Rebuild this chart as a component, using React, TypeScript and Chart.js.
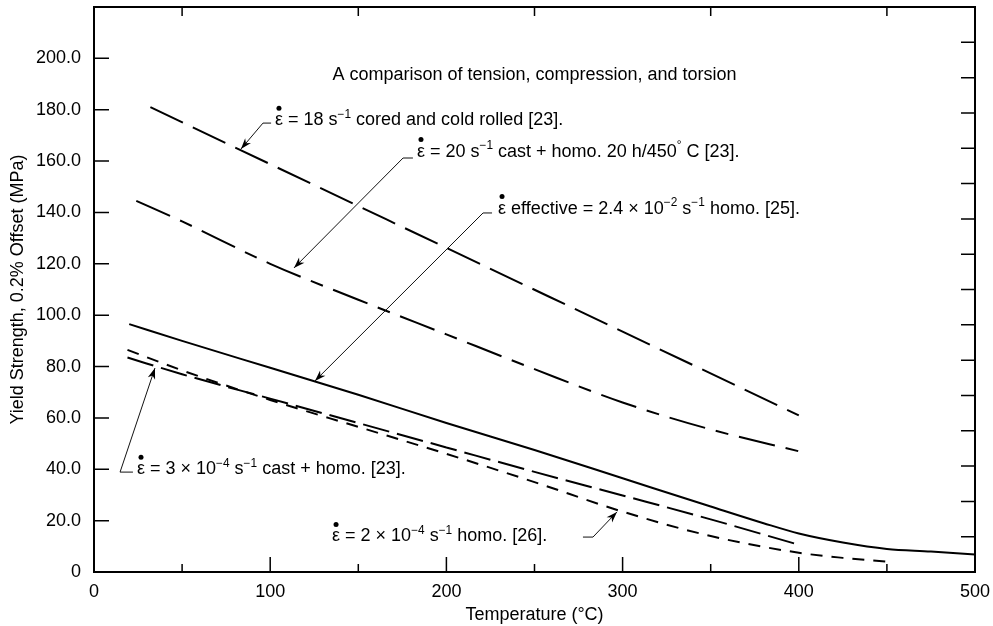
import React, { useEffect, useRef } from "react";
import { Chart, registerables } from "chart.js";
Chart.register(...registerables);

const FONT = '"Liberation Sans", Arial, Helvetica, sans-serif';

// ---- data (temperature in °C, yield strength in MPa) ----
const rate18X = [32, 100, 200, 300, 400];
const rate18Y = [181, 158.8, 126.2, 93.6, 61];

const rate20X = [24, 50, 100, 150, 200, 250, 300, 350, 400];
const rate20Y = [144.5, 136.5, 120, 106, 92.5, 79, 66, 55.5, 47];

const effX = [20, 50, 100, 150, 200, 250, 300, 350, 380, 400, 425, 450, 475, 500];
const effY = [96.5, 90, 79.5, 69, 58, 47.5, 36.5, 25.5, 19, 15, 11.5, 9, 8, 6.8];

const rate3e4X = [19, 50, 100, 150, 200, 250, 300, 350, 398];
const rate3e4Y = [83.5, 77, 67.5, 58, 48.5, 39, 29.8, 20.5, 11];

const rate2e4X = [19, 50, 100, 150, 200, 250, 300, 350, 400, 425, 450];
const rate2e4Y = [86.5, 78.5, 67, 56.5, 46, 35, 23.5, 14, 7.5, 5.5, 4];

// ---- tick labels ----
const xTickValues = [0, 100, 200, 300, 400, 500];
const yTickValues = [0, 20, 40, 60, 80, 100, 120, 140, 160, 180, 200];
const xMinorTicks = [50, 150, 250, 350, 450];
const topTicks = [50, 150, 250, 350, 450];
const rightTickCount = 16;

const titleText = "A comparison of tension, compression, and torsion";

type Seg = { t: string; sup?: boolean; dot?: boolean };
type Ann = {
  segs: Seg[];
  tx: number; ty: number; // text left / center (data units)
  ex: number; ey: number; // elbow
  sx: number;             // other end of horizontal stub
  px: number; py: number; // arrow tip
};

const annotations: Ann[] = [
  {
    segs: [{ t: "ε", dot: true }, { t: " = 18 s" }, { t: "−1", sup: true }, { t: " cored and cold rolled [23]." }],
    tx: 102.7, ty: 176.4, ex: 95.9, ey: 174.8, sx: 100.5, px: 83.4, py: 164.7,
  },
  {
    segs: [{ t: "ε", dot: true }, { t: " = 20 s" }, { t: "−1", sup: true }, { t: " cast + homo. 20 h/450" }, { t: "°", sup: true }, { t: " C [23]." }],
    tx: 183.3, ty: 164.3, ex: 175.4, ey: 161.2, sx: 181, px: 113.5, py: 118.4,
  },
  {
    segs: [{ t: "ε", dot: true }, { t: " effective = 2.4 × 10" }, { t: "−2", sup: true }, { t: " s" }, { t: "−1", sup: true }, { t: " homo. [25]." }],
    tx: 229.3, ty: 142.1, ex: 220.8, ey: 139.8, sx: 225.9, px: 125.4, py: 74.4,
  },
  {
    segs: [{ t: "ε", dot: true }, { t: " = 3 × 10" }, { t: "−4", sup: true }, { t: " s" }, { t: "−1", sup: true }, { t: " cast + homo. [23]." }],
    tx: 24.4, ty: 40.5, ex: 14.8, ey: 38.9, sx: 22.1, px: 34.6, py: 79.4,
  },
  {
    segs: [{ t: "ε", dot: true }, { t: " = 2 × 10" }, { t: "−4", sup: true }, { t: " s" }, { t: "−1", sup: true }, { t: " homo. [26]." }],
    tx: 135.1, ty: 14.4, ex: 283.2, ey: 13.6, sx: 277.5, px: 296.8, py: 23.4,
  },
];

const zip = (xs: number[], ys: number[]) => xs.map((x, i) => ({ x, y: ys[i] }));

function drawRich(ctx: CanvasRenderingContext2D, segs: Seg[], x: number, cy: number, size: number) {
  const base = cy + size * 0.36;
  let cx = x;
  ctx.textAlign = "left";
  ctx.textBaseline = "alphabetic";
  for (const s of segs) {
    const fs = s.sup ? size * 0.66 : size;
    ctx.font = `${fs}px ${FONT}`;
    const y = s.sup ? base - size * 0.42 : base;
    ctx.fillText(s.t, cx, y);
    const w = ctx.measureText(s.t).width;
    if (s.dot) {
      ctx.beginPath();
      ctx.arc(cx + w / 2, base - size * 0.95, 2.5, 0, Math.PI * 2);
      ctx.fill();
    }
    cx += w;
  }
}

const framePlugin = {
  id: "frameTicks",
  afterDraw(chart: any) {
    const { ctx, chartArea: a, scales } = chart;
    const xs = scales.x;
    const ys = scales.y;
    ctx.save();
    ctx.strokeStyle = "#000";
    ctx.fillStyle = "#000";
    // ticks
    ctx.lineWidth = 1.5;
    ctx.beginPath();
    for (const v of yTickValues) {
      if (v === 0) continue;
      const p = ys.getPixelForValue(v);
      ctx.moveTo(a.left, p);
      ctx.lineTo(a.left + 15, p);
    }
    for (let k = 1; k < rightTickCount; k++) {
      const p = ys.getPixelForValue((k * ys.max) / rightTickCount);
      ctx.moveTo(a.right, p);
      ctx.lineTo(a.right - 14, p);
    }
    for (const v of xTickValues) {
      if (v === 0 || v === 500) continue;
      const p = xs.getPixelForValue(v);
      ctx.moveTo(p, a.bottom);
      ctx.lineTo(p, a.bottom - 15);
    }
    for (const v of xMinorTicks) {
      const p = xs.getPixelForValue(v);
      ctx.moveTo(p, a.bottom);
      ctx.lineTo(p, a.bottom - 8);
    }
    for (const v of topTicks) {
      const p = xs.getPixelForValue(v);
      ctx.moveTo(p, a.top);
      ctx.lineTo(p, a.top + 9);
    }
    ctx.stroke();
    // frame
    ctx.lineWidth = 2;
    ctx.strokeRect(a.left, a.top, a.right - a.left, a.bottom - a.top);

    // title text
    ctx.font = `18px ${FONT}`;
    ctx.textAlign = "center";
    ctx.textBaseline = "middle";
    ctx.fillText(titleText, xs.getPixelForValue(250), ys.getPixelForValue(193.5));

    // annotations
    for (const an of annotations) {
      const ex = xs.getPixelForValue(an.ex);
      const ey = ys.getPixelForValue(an.ey);
      const sx = xs.getPixelForValue(an.sx);
      const px = xs.getPixelForValue(an.px);
      const py = ys.getPixelForValue(an.py);
      ctx.lineWidth = 1;
      ctx.strokeStyle = "#111";
      ctx.beginPath();
      ctx.moveTo(sx, ey);
      ctx.lineTo(ex, ey);
      ctx.lineTo(px, py);
      ctx.stroke();
      const ang = Math.atan2(py - ey, px - ex);
      const L = 11, W = 3.8;
      ctx.beginPath();
      ctx.moveTo(px, py);
      ctx.lineTo(px - L * Math.cos(ang) + W * Math.sin(ang), py - L * Math.sin(ang) - W * Math.cos(ang));
      ctx.lineTo(px - L * 0.7 * Math.cos(ang), py - L * 0.7 * Math.sin(ang));
      ctx.lineTo(px - L * Math.cos(ang) - W * Math.sin(ang), py - L * Math.sin(ang) + W * Math.cos(ang));
      ctx.closePath();
      ctx.fill();
      drawRich(ctx, an.segs, xs.getPixelForValue(an.tx), ys.getPixelForValue(an.ty), 18);
    }
    ctx.restore();
  },
};

export default function App() {
  const ref = useRef<HTMLCanvasElement | null>(null);
  useEffect(() => {
    if (!ref.current) return;
    const line = (data: any[], dash: number[]) => ({
      data,
      borderColor: "#000",
      backgroundColor: "#000",
      borderWidth: 2,
      borderDash: dash,
      pointRadius: 0,
      fill: false,
      cubicInterpolationMode: "monotone" as const,
    });
    const chart = new Chart(ref.current, {
      type: "line",
      data: {
        datasets: [
          line(zip(rate18X, rate18Y), [36, 11]),
          line(zip(rate20X, rate20Y), [37, 11, 13, 11]),
          line(zip(effX, effY), []),
          line(zip(rate3e4X, rate3e4Y), [27, 8]),
          line(zip(rate2e4X, rate2e4Y), [12, 9]),
        ],
      },
      options: {
        animation: false,
        responsive: true,
        maintainAspectRatio: false,
        layout: { padding: { left: 0, top: 7, right: 18, bottom: 0 } },
        plugins: { legend: { display: false }, tooltip: { enabled: false } },
        scales: {
          x: {
            type: "linear",
            min: 0,
            max: 500,
            grid: { display: false, drawTicks: false },
            border: { display: false },
            afterBuildTicks: (s: any) => { s.ticks = xTickValues.map((v) => ({ value: v })); },
            afterFit: (s: any) => { s.height = 54; s.paddingLeft = 0; s.paddingRight = 0; },
            ticks: { color: "#000", font: { family: FONT, size: 18 }, padding: 9, maxRotation: 0 },
            title: {
              display: true,
              text: "Temperature (°C)",
              color: "#000",
              font: { family: FONT, size: 18 },
              padding: { top: 0, bottom: 0 },
            },
          },
          y: {
            type: "linear",
            min: 0,
            max: 220,
            grid: { display: false, drawTicks: false },
            border: { display: false },
            afterBuildTicks: (s: any) => { s.ticks = yTickValues.map((v) => ({ value: v })); },
            afterFit: (s: any) => { s.width = 94; s.paddingTop = 0; s.paddingBottom = 0; },
            ticks: {
              color: "#000",
              font: { family: FONT, size: 18 },
              padding: 13,
              callback: (v: any) => (Number(v) === 0 ? "0" : Number(v).toFixed(1)),
            },
            title: {
              display: true,
              text: "Yield Strength, 0.2% Offset (MPa)",
              color: "#000",
              font: { family: FONT, size: 18 },
              padding: { top: 7, bottom: 0 },
            },
          },
        },
      },
      plugins: [framePlugin],
    });
    return () => chart.destroy();
  }, []);
  return (
    <div style={{ position: "absolute", left: 0, top: 0, width: 993, height: 626, background: "#fff" }}>
      <canvas ref={ref} />
    </div>
  );
}
